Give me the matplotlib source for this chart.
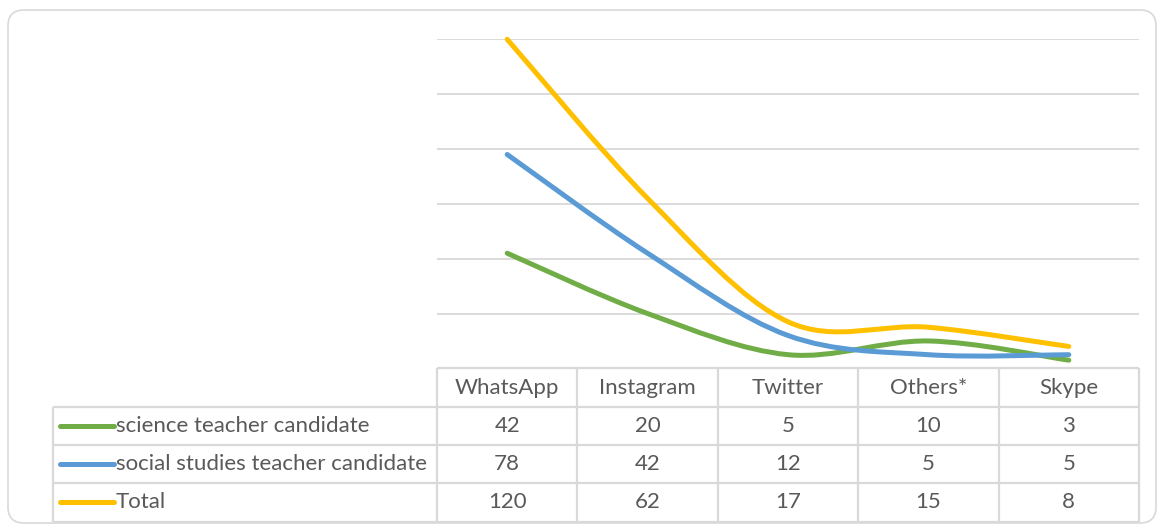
import numpy as np
import matplotlib
matplotlib.use("Agg")
import matplotlib.pyplot as plt
from matplotlib.path import Path
from matplotlib.patches import PathPatch, FancyBboxPatch

# data
platforms = ["WhatsApp", "Instagram", "Twitter", "Others*", "Skype"]
science = [42, 20, 5, 10, 3]
social = [78, 42, 12, 5, 5]
total = [120, 62, 17, 15, 8]

series_names = ["science teacher candidate",
                "social studies teacher candidate", "Total"]
series_vals = [science, social, total]
series_cols = ["#70ad47", "#5b9bd5", "#ffc000"]

W, H = 1160, 527
plt.rcParams['font.family'] = ['Lato', 'DejaVu Sans']
txtcol = "#595959"
gridcol = "#d9d9d9"


def smooth_path(xs, ys):
    """excel-like smoothed line as cubic bezier path"""
    pts = np.column_stack([xs, ys]).astype(float)
    n = len(pts)
    verts = [pts[0]]
    codes = [Path.MOVETO]
    for i in range(n - 1):
        p0 = pts[i - 1] if i > 0 else pts[i]
        p1 = pts[i]
        p2 = pts[i + 1]
        p3 = pts[i + 2] if i + 2 < n else pts[i + 1]
        c1 = p1 + (p2 - p0) / 6
        c2 = p2 - (p3 - p1) / 6
        verts += [c1, c2, p2]
        codes += [Path.CURVE4] * 3
    return Path(verts, codes)


fig = plt.figure(figsize=(W / 100, H / 100), dpi=100)

# outer frame
frame = fig.add_axes([0, 0, 1, 1])
frame.set_xlim(0, W)
frame.set_ylim(H, 0)
frame.axis("off")
frame.add_patch(FancyBboxPatch((8, 10), 1148, 513,
                               boxstyle="round,pad=0,rounding_size=16",
                               fc="white", ec=gridcol, lw=1.2))

# plot area
x0, x1, ytop, ybot = 437, 1139, 39.3, 368.4
ax = fig.add_axes([x0 / W, 1 - ybot / H, (x1 - x0) / W, (ybot - ytop) / H])
ax.set_xlim(-0.5, len(platforms) - 0.5)
ax.set_ylim(0, 120)
ax.patch.set_alpha(0)
for s in ax.spines.values():
    s.set_visible(False)
ax.set_xticks([])
ax.set_yticks([])
for g in range(20, 121, 20):
    ax.axhline(g, color=gridcol, lw=1.3, zorder=1)

xs = np.arange(len(platforms))
for vals, col in zip(series_vals, series_cols):
    pp = PathPatch(smooth_path(xs, vals), fill=False, ec=col, lw=3.6,
                   capstyle="round", joinstyle="round", zorder=3,
                   clip_on=False)
    ax.add_patch(pp)

# data table
tab = fig.add_axes([0, 0, 1, 1])
tab.set_xlim(0, W)
tab.set_ylim(H, 0)
tab.axis("off")
tab.patch.set_alpha(0)

rowh = 38.3
rows_y = [ybot + i * rowh for i in range(5)]
colw = (x1 - x0) / len(platforms)
cols_x = [x0 + i * colw for i in range(len(platforms) + 1)]
left = 52.7
lkw = dict(color=gridcol, lw=1.6, solid_capstyle="butt")

tab.plot([x0, x1], [rows_y[0], rows_y[0]], **lkw)
for y in rows_y[1:]:
    tab.plot([left, x1], [y, y], **lkw)
for x in cols_x:
    tab.plot([x, x], [rows_y[0], rows_y[-1]], **lkw)
tab.plot([left, left], [rows_y[1], rows_y[-1]], **lkw)

fs = 16
for j, name in enumerate(platforms):
    tab.text((cols_x[j] + cols_x[j + 1]) / 2, rows_y[0] + rowh / 2, name,
             ha="center", va="center", fontsize=fs, color=txtcol)

for i, (name, vals, col) in enumerate(zip(series_names, series_vals,
                                          series_cols)):
    yc = rows_y[i + 1] + rowh / 2
    tab.plot([59.5, 113.5], [yc, yc], color=col, lw=3.6,
             solid_capstyle="round")
    tab.text(116, yc, name, ha="left", va="center", fontsize=fs,
             color=txtcol)
    for j, v in enumerate(vals):
        tab.text((cols_x[j] + cols_x[j + 1]) / 2, yc, str(v),
                 ha="center", va="center", fontsize=fs, color=txtcol)

fig.savefig("out.png", dpi=100)
